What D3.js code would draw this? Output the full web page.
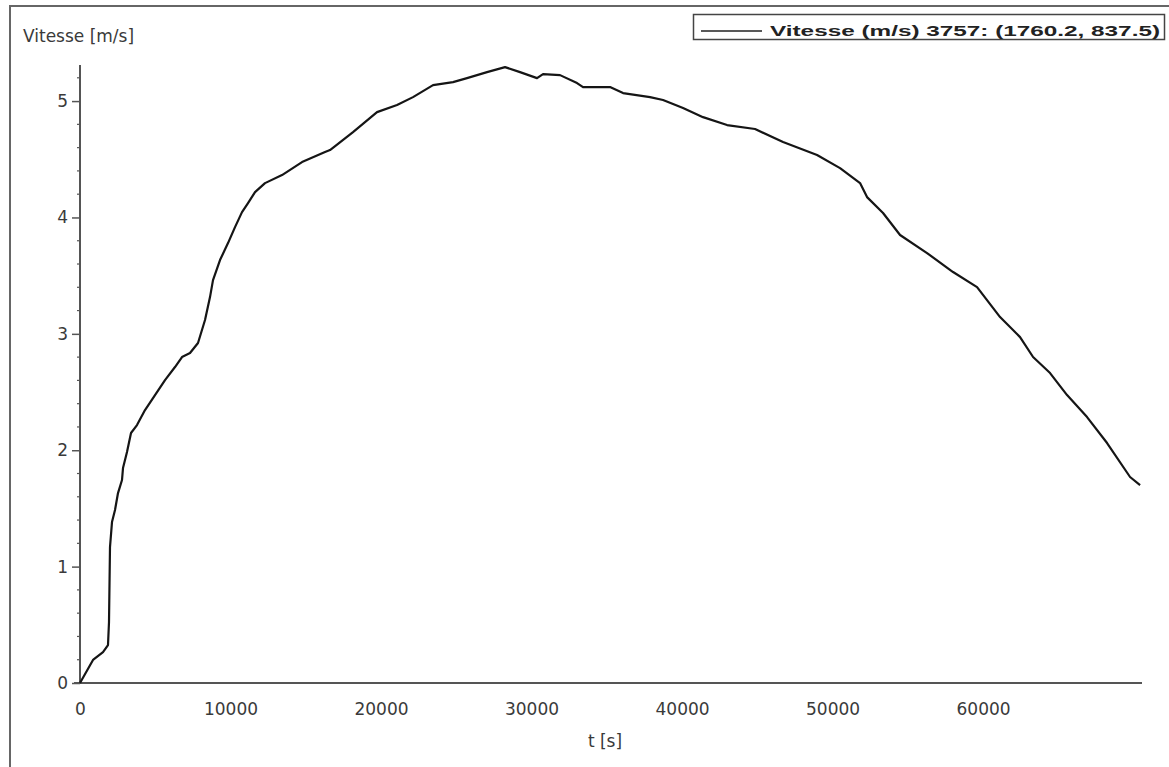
<!DOCTYPE html>
<html>
<head>
<meta charset="utf-8">
<script src="https://cdn.jsdelivr.net/npm/d3@7"></script>
<style>
  html, body { margin: 0; padding: 0; background: #fff; }
  svg { display: block; }
</style>
</head>
<body>
<svg id="chart" width="1169" height="767"></svg>
<script>
// ---- data ----
const timeS = [0, 864, 1528, 1860, 1927, 1993, 2126, 2326, 2525, 2791, 2857, 3123, 3389, 3787, 4319, 4983,
  5648, 6312, 6777, 7309, 7840, 8306, 8638, 8837, 9302, 9834, 10299, 10764, 11163, 11628, 12292, 13422,
  14751, 16279, 16611, 18139, 19734, 21063, 22126, 23455, 24784, 25714, 27043, 28239, 29236, 30365, 30764,
  31894, 33023, 33422, 35216, 36080, 37874, 38737, 40066, 41395, 42990, 44850, 46711, 48970, 50498, 51827,
  52292, 53355, 54485, 56279, 58007, 59601, 61129, 62458, 63322, 64452, 65581, 66910, 68239, 69767, 70432];
const vitesse = [0, 0.198, 0.266, 0.326, 0.524, 1.168, 1.383, 1.486, 1.632, 1.744, 1.847, 1.985, 2.148, 2.216, 2.345, 2.474,
  2.603, 2.715, 2.801, 2.835, 2.921, 3.119, 3.316, 3.462, 3.634, 3.780, 3.917, 4.046, 4.124, 4.218, 4.295, 4.364,
  4.476, 4.562, 4.579, 4.734, 4.905, 4.966, 5.034, 5.137, 5.163, 5.197, 5.249, 5.292, 5.249, 5.197, 5.232,
  5.223, 5.155, 5.120, 5.120, 5.069, 5.034, 5.009, 4.940, 4.862, 4.794, 4.760, 4.648, 4.536, 4.424, 4.296,
  4.175, 4.038, 3.849, 3.694, 3.531, 3.402, 3.144, 2.972, 2.801, 2.663, 2.474, 2.285, 2.062, 1.770, 1.701];
const xTicks = [0, 10000, 20000, 30000, 40000, 50000, 60000];
const yTicks = [0, 1, 2, 3, 4, 5];
const yMinorTicks = [0.2,0.4,0.6,0.8,1.2,1.4,1.6,1.8,2.2,2.4,2.6,2.8,3.2,3.4,3.6,3.8,4.2,4.4,4.6,4.8,5.2];
const yTitle = "Vitesse [m/s]";
const xTitle = "t [s]";
const legendLabel = "Vitesse (m/s) 3757: (1760.2, 837.5)";

// ---- drawing ----
const svg = d3.select("#chart");
const axisColor = "#555";
const textColor = "#3a3a3a";
const font = "'DejaVu Sans', Verdana, sans-serif";

svg.append("rect").attr("width", 1169).attr("height", 767).attr("fill", "#fff");

// outer frame (left and top edges visible)
svg.append("path")
  .attr("d", "M10,767 L10,6 L1169,6")
  .attr("fill", "none").attr("stroke", "#666").attr("stroke-width", 2);

const x = d3.scaleLinear().domain([0, 70560]).range([80, 1142]);
const y = d3.scaleLinear().domain([0, 5.31]).range([683, 65]);

// y axis
const yAxis = svg.append("g").attr("transform", "translate(80,0)")
  .call(d3.axisLeft(y).tickValues(yTicks).tickSize(8).tickPadding(4).tickFormat(d3.format("d")));
yAxis.select(".domain").attr("stroke", axisColor).attr("stroke-width", 2).attr("d", `M0,${y(5.31)}V${y(0)}`);
yAxis.selectAll(".tick line").attr("stroke", axisColor).attr("stroke-width", 1.5);
yAxis.selectAll(".tick text").attr("fill", textColor).attr("font-family", font).attr("font-size", 17);
svg.append("g").selectAll("line").data(yMinorTicks).join("line")
  .attr("x1", 77).attr("x2", 80).attr("y1", d => y(d)).attr("y2", d => y(d))
  .attr("stroke", axisColor).attr("stroke-width", 1.2);

// x axis
const xAxis = svg.append("g").attr("transform", "translate(0,683)")
  .call(d3.axisBottom(x).tickValues(xTicks).tickSize(0).tickPadding(20).tickFormat(d3.format("d")));
xAxis.select(".domain").attr("stroke", axisColor).attr("stroke-width", 2).attr("d", `M${x(0) - 6},0H${x(70560)}`);
xAxis.selectAll(".tick text").attr("fill", textColor).attr("font-family", font).attr("font-size", 17);

// titles
svg.append("text").attr("x", 23).attr("y", 42).text(yTitle)
  .attr("fill", textColor).attr("font-family", font).attr("font-size", 17);
svg.append("text").attr("x", 605).attr("y", 747).attr("text-anchor", "middle").text(xTitle)
  .attr("fill", textColor).attr("font-family", font).attr("font-size", 17);

// data line
const line = d3.line().x((d, i) => x(timeS[i])).y(d => y(d));
svg.append("path").datum(vitesse).attr("d", line)
  .attr("fill", "none").attr("stroke", "#151515").attr("stroke-width", 2.2).attr("stroke-linejoin", "round");

// legend
const lg = svg.append("g");
lg.append("rect").attr("x", 693.5).attr("y", 14.5).attr("width", 471).attr("height", 25)
  .attr("fill", "#fff").attr("stroke", "#444").attr("stroke-width", 1.5);
lg.append("line").attr("x1", 701).attr("x2", 762).attr("y1", 31).attr("y2", 31)
  .attr("stroke", "#222").attr("stroke-width", 1.5);
lg.append("text").attr("x", 770).attr("y", 36).text(legendLabel)
  .attr("fill", "#222").attr("font-family", "'Liberation Sans', Arial, sans-serif")
  .attr("font-weight", "bold").attr("font-size", 15)
  .attr("textLength", 390).attr("lengthAdjust", "spacingAndGlyphs");
</script>
</body>
</html>
